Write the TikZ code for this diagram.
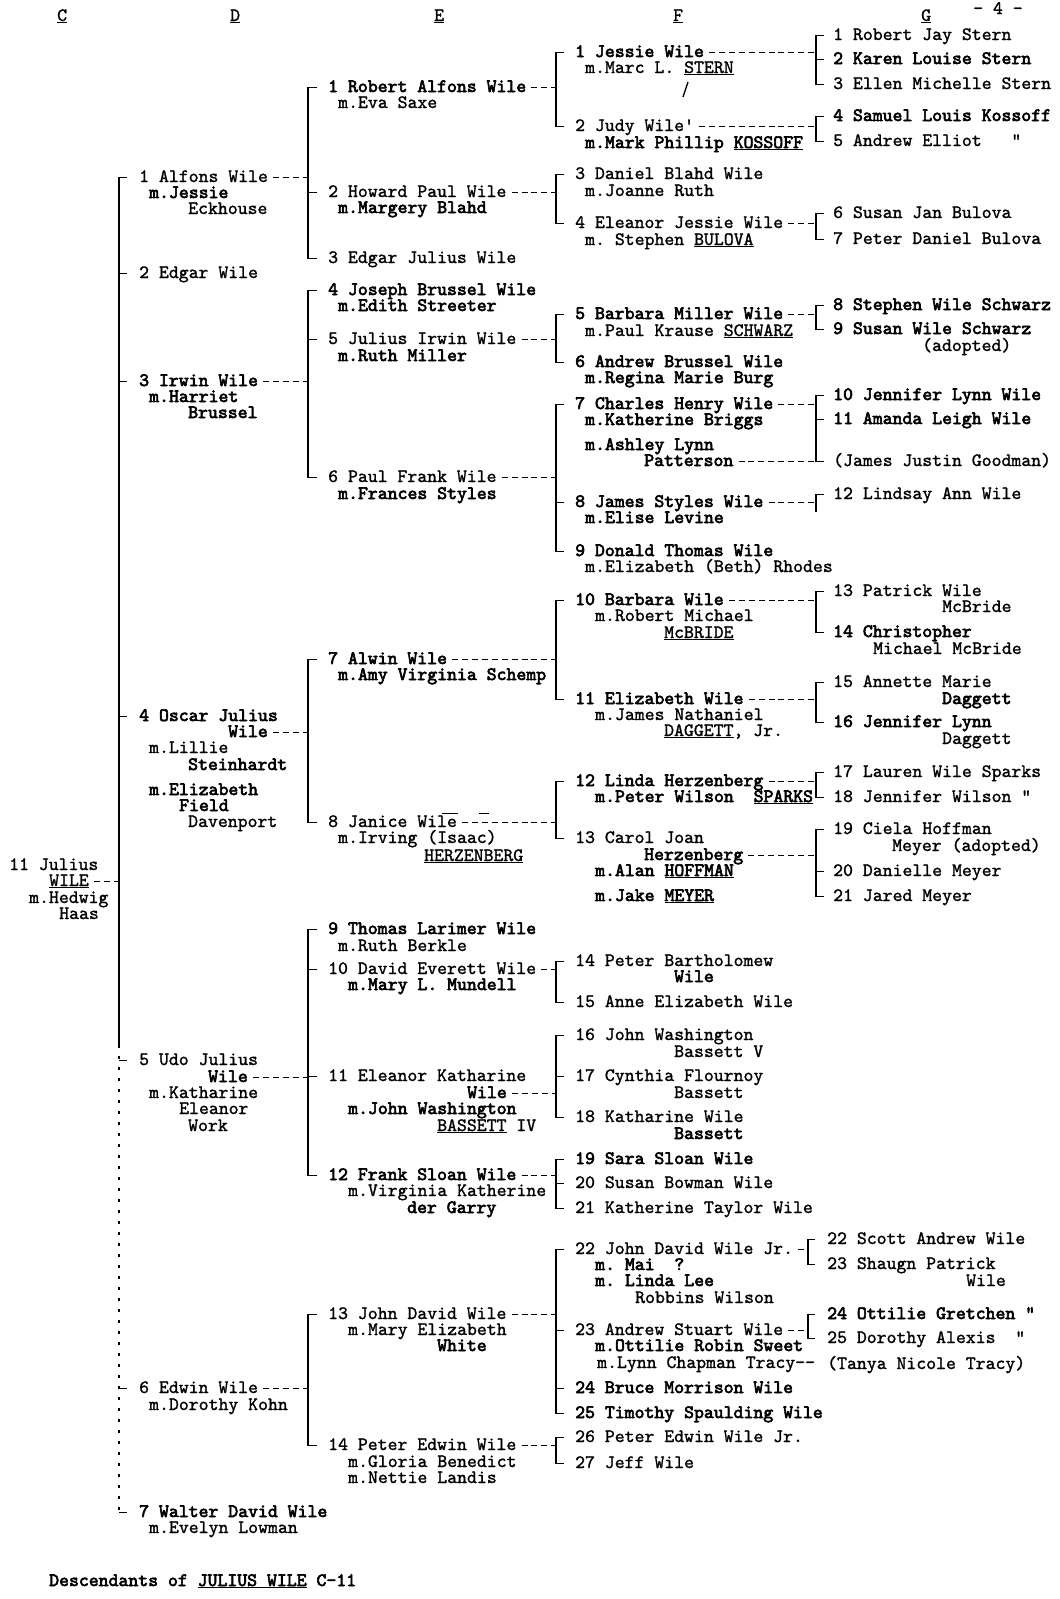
\documentclass[tikz,border=0pt]{standalone}
\font\twR="[lmmono10-regular.otf]:embolden=1.3" at 18.86pt
\font\twB="[lmmono10-regular.otf]:embolden=3.2" at 18.86pt
\newcommand\twr{\twR\frenchspacing}
\newcommand\twb{\twB\frenchspacing}
\tikzset{
  txr/.style={anchor=base west, inner sep=0pt, font=\twr},
  txb/.style={anchor=base west, inner sep=0pt, font=\twb},
  brk/.style={line width=1.5pt},
  dsh/.style={line width=1.5pt, dash pattern=on 6pt off 3.9pt},
  dot/.style={line width=1.1pt, dash pattern=on 3pt off 8pt},
}
% person line: node + mid (left, mid-height) + right coordinates
\newcommand\pnode[5][txb]{\node[#1] (#2) at (#3,#4) {#5};
  \coordinate (#2m) at ([yshift=4.5pt]#2.base west);
  \coordinate (#2r) at ([xshift=5pt,yshift=4.5pt]#2.base east);}
\newcommand\mline[5][txb]{\node[#1] (#2) at (#3,#4) {#5};}
% bracket: #1 x-coord, #2 tick-end coord, #3 top node, #4 bottom node
\newcommand\brak[4]{\draw[brk] (#3m -| #2) -- (#3m -| #1) -- (#4m -| #1) -- (#4m -| #2);}
\newcommand\tick[3]{\draw[brk] (#3m -| #1) -- (#3m -| #2);}
\newcommand\conn[2]{\draw[dsh] (#1r) -- (#1r -| #2);}
\begin{document}
\begin{tikzpicture}[x=1pt,y=-1pt]
\fill[white] (0,0) rectangle (1060,1599);
\useasboundingbox (0,0) rectangle (1060,1599);
\coordinate (bD) at (119,0); \coordinate (tD) at (127,0);
\coordinate (bE) at (308,0); \coordinate (tE) at (317,0);
\coordinate (bF) at (556,0); \coordinate (tF) at (564,0);
\coordinate (bG) at (816,0); \coordinate (tG) at (824,0);
\coordinate (bH) at (808,0); \coordinate (tH) at (815,0);

% headers
\mline[txr]{hC}{57}{21}{\underline{C}}
\mline[txr]{hD}{230}{21}{\underline{D}}
\mline[txr]{hE}{434}{21}{\underline{E}}
\mline[txr]{hF}{673}{21}{\underline{F}}
\mline[txr]{hG}{921}{21}{\underline{G}}
\mline[txr]{pg}{973}{14}{- 4 -}

% C column
\pnode[txr]{c1}{9}{870}{11 Julius}
\pnode[txr]{c1a}{49}{886}{\underline{WILE}}
\mline[txr]{c1b}{29}{903}{m.Hedwig}
\mline[txr]{c1c}{59}{919}{Haas}

% D column
\pnode[txr]{d1}{139}{182}{1 Alfons Wile}
\mline{d1a}{149}{198}{m.Jessie}
\mline[txr]{d1b}{188}{214}{Eckhouse}
\pnode[txr]{d2}{139}{278}{2 Edgar Wile}
\pnode{d3}{139}{386}{3 Irwin Wile}
\mline{d3a}{149}{402}{m.Harriet}
\mline{d3b}{188}{418}{Brussel}
\pnode{d4}{139}{721}{4 Oscar Julius}
\pnode{d4a}{228}{737}{Wile}
\mline[txr]{d4b}{149}{753}{m.Lillie}
\mline{d4c}{188}{770}{Steinhardt}
\mline{d4d}{149}{795}{m.Elizabeth}
\mline{d4e}{179}{811}{Field}
\mline[txr]{d4f}{188}{827}{Davenport}
\pnode[txr]{d5}{139}{1065}{5 Udo Julius}
\pnode{d5a}{208}{1082}{Wile}
\mline[txr]{d5b}{149}{1098}{m.Katharine}
\mline[txr]{d5c}{179}{1114}{Eleanor}
\mline[txr]{d5d}{188}{1131}{Work}
\pnode[txr]{d6}{139}{1393}{6 Edwin Wile}
\mline[txr]{d6a}{149}{1410}{m.Dorothy Kohn}
\pnode{d7}{139}{1517}{7 Walter David Wile}
\mline[txr]{d7a}{149}{1533}{m.Evelyn Lowman}

% E column
\pnode{e1}{328}{92}{1 Robert Alfons Wile}
\mline[txr]{e1a}{338}{108}{m.Eva Saxe}
\pnode[txr]{e2}{328}{197}{2 Howard Paul Wile}
\mline{e2a}{338}{213}{m.Margery Blahd}
\pnode[txr]{e3}{328}{263}{3 Edgar Julius Wile}
\pnode{e4}{328}{295}{4 Joseph Brussel Wile}
\mline{e4a}{338}{311}{m.Edith Streeter}
\pnode[txr]{e5}{328}{344}{5 Julius Irwin Wile}
\mline{e5a}{338}{361}{m.Ruth Miller}
\pnode[txr]{e6}{328}{482}{6 Paul Frank Wile}
\mline{e6a}{338}{499}{m.Frances Styles}
\pnode{e7}{328}{664}{7 Alwin Wile}
\mline{e7a}{338}{680}{m.Amy Virginia Schemp}
\pnode[txr]{e8}{328}{827}{8 Janice Wile}
\mline[txr]{e8a}{338}{843}{m.Irving (Isaac)}
\mline[txr]{e8b}{424}{861}{\underline{HERZENBERG}}
\pnode{e9}{328}{934}{9 Thomas Larimer Wile}
\mline[txr]{e9a}{338}{951}{m.Ruth Berkle}
\pnode[txr]{e10}{328}{974}{10 David Everett Wile}
\mline{e10a}{348}{990}{m.Mary L. Mundell}
\pnode[txr]{e11}{328}{1081}{11 Eleanor Katharine}
\pnode{e11a}{467}{1098}{Wile}
\mline{e11b}{348}{1114}{m.John Washington}
\mline[txr]{e11c}{437}{1131}{\underline{BASSETT} IV}
\pnode{e12}{328}{1180}{12 Frank Sloan Wile}
\mline[txr]{e12a}{348}{1196}{m.Virginia Katherine}
\mline{e12b}{407}{1213}{der Garry}
\pnode[txr]{e13}{328}{1319}{13 John David Wile}
\mline[txr]{e13a}{348}{1335}{m.Mary Elizabeth}
\mline{e13b}{437}{1351}{White}
\pnode[txr]{e14}{328}{1450}{14 Peter Edwin Wile}
\mline[txr]{e14a}{348}{1467}{m.Gloria Benedict}
\mline[txr]{e14b}{348}{1483}{m.Nettie Landis}

% F column
\pnode{f1}{575}{57}{1 Jessie Wile}
\mline[txr]{f1a}{585}{73}{m.Marc L. \underline{STERN}}
\pnode[txr]{f2}{575}{131}{2 Judy Wile'}
\mline{f2a}{585}{148}{m.Mark Phillip \underline{KOSSOFF}}
\pnode[txr]{f3}{575}{179}{3 Daniel Blahd Wile}
\mline[txr]{f3a}{585}{196}{m.Joanne Ruth}
\pnode[txr]{f4}{575}{228}{4 Eleanor Jessie Wile}
\mline[txr]{f4a}{585}{245}{m. Stephen \underline{BULOVA}}
\pnode{f5}{575}{319}{5 Barbara Miller Wile}
\mline[txr]{f5a}{585}{336}{m.Paul Krause \underline{SCHWARZ}}
\pnode{f6}{575}{367}{6 Andrew Brussel Wile}
\mline{f6a}{585}{383}{m.Regina Marie Burg}
\pnode{f7}{575}{409}{7 Charles Henry Wile}
\mline{f7a}{585}{425}{m.Katherine Briggs}
\mline{f7b}{585}{450}{m.Ashley Lynn}
\pnode{f7c}{644}{466}{Patterson}
\pnode{f8}{575}{507}{8 James Styles Wile}
\mline{f8a}{585}{523}{m.Elise Levine}
\pnode{f9}{575}{556}{9 Donald Thomas Wile}
\mline[txr]{f9a}{585}{572}{m.Elizabeth (Beth) Rhodes}
\pnode{f10}{575}{605}{10 Barbara Wile}
\mline[txr]{f10a}{595}{621}{m.Robert Michael}
\mline[txr]{f10b}{664}{638}{\underline{McBRIDE}}
\pnode{f11}{575}{704}{11 Elizabeth Wile}
\mline[txr]{f11a}{595}{720}{m.James Nathaniel}
\mline[txr]{f11b}{664}{736}{\underline{DAGGETT}, Jr.}
\pnode{f12}{575}{786}{12 Linda Herzenberg}
\mline{f12a}{595}{802}{m.Peter Wilson\ \ \underline{SPARKS}}
\pnode[txr]{f13}{575}{843}{13 Carol Joan}
\pnode{f13a}{644}{860}{Herzenberg}
\mline{f13b}{595}{876}{m.Alan \underline{HOFFMAN}}
\mline{f13c}{595}{901}{m.Jake \underline{MEYER}}
\pnode[txr]{f14}{575}{966}{14 Peter Bartholomew}
\mline{f14a}{674}{982}{Wile}
\pnode[txr]{f15}{575}{1007}{15 Anne Elizabeth Wile}
\pnode[txr]{f16}{575}{1040}{16 John Washington}
\mline[txr]{f16a}{674}{1057}{Bassett V}
\pnode[txr]{f17}{575}{1081}{17 Cynthia Flournoy}
\mline[txr]{f17a}{674}{1098}{Bassett}
\pnode[txr]{f18}{575}{1122}{18 Katharine Wile}
\mline{f18a}{674}{1139}{Bassett}
\pnode{f19}{575}{1164}{19 Sara Sloan Wile}
\pnode[txr]{f20}{575}{1188}{20 Susan Bowman Wile}
\pnode[txr]{f21}{575}{1213}{21 Katherine Taylor Wile}
\pnode[txr]{f22}{575}{1254}{22 John David Wile Jr.}
\mline{f22a}{595}{1270}{m. Mai\ \ ?}
\mline{f22b}{595}{1286}{m. Linda Lee}
\mline[txr]{f22c}{635}{1303}{Robbins Wilson}
\pnode[txr]{f23}{575}{1335}{23 Andrew Stuart Wile}
\mline{f23a}{595}{1351}{m.Ottilie Robin Sweet}
\mline[txr]{f23b}{597}{1368}{m.Lynn Chapman Tracy-{}-}
\pnode{f24}{575}{1393}{24 Bruce Morrison Wile}
\pnode{f25}{575}{1418}{25 Timothy Spaulding Wile}
\pnode[txr]{f26}{575}{1442}{26 Peter Edwin Wile Jr.}
\pnode[txr]{f27}{575}{1468}{27 Jeff Wile}

% G column
\pnode[txr]{g1}{833}{40}{1 Robert Jay Stern}
\pnode{g2}{833}{64}{2 Karen Louise Stern}
\pnode[txr]{g3}{833}{89}{3 Ellen Michelle Stern}
\pnode{g4}{833}{121}{4 Samuel Louis Kossoff}
\pnode[txr]{g5}{833}{146}{5 Andrew Elliot\ \ \ "}
\pnode[txr]{g6}{833}{218}{6 Susan Jan Bulova}
\pnode[txr]{g7}{833}{244}{7 Peter Daniel Bulova}
\pnode{g8}{833}{310}{8 Stephen Wile Schwarz}
\pnode{g9}{833}{334}{9 Susan Wile Schwarz}
\mline[txr]{g9a}{922}{351}{(adopted)}
\pnode{g10}{833}{400}{10 Jennifer Lynn Wile}
\pnode{g11}{833}{424}{11 Amanda Leigh Wile}
\pnode[txr]{g11x}{833}{466}{(James Justin Goodman)}
\pnode[txr]{g12}{833}{499}{12 Lindsay Ann Wile}
\coordinate (g12em) at (816,512);
\pnode[txr]{g13}{833}{596}{13 Patrick Wile}
\mline[txr]{g13a}{942}{612}{McBride}
\pnode{g14}{833}{637}{14 Christopher}
\mline[txr]{g14a}{873}{654}{Michael McBride}
\pnode[txr]{g15}{833}{687}{15 Annette Marie}
\mline{g15a}{942}{704}{Daggett}
\pnode{g16}{833}{727}{16 Jennifer Lynn}
\mline[txr]{g16a}{942}{744}{Daggett}
\pnode[txr]{g17}{833}{777}{17 Lauren Wile Sparks}
\pnode[txr]{g18}{833}{802}{18 Jennifer Wilson "}
\pnode[txr]{g19}{833}{834}{19 Ciela Hoffman}
\mline[txr]{g19a}{892}{851}{Meyer (adopted)}
\pnode[txr]{g20}{833}{876}{20 Danielle Meyer}
\pnode[txr]{g21}{833}{901}{21 Jared Meyer}
\pnode[txr]{g22}{827}{1244}{22 Scott Andrew Wile}
\pnode[txr]{g23}{827}{1269}{23 Shaugn Patrick}
\mline[txr]{g23a}{966}{1286}{Wile}
\pnode{g24}{827}{1319}{24 Ottilie Gretchen "}
\pnode[txr]{g25}{827}{1343}{25 Dorothy Alexis\ \ "}
\mline[txr]{g25x}{827}{1369}{(Tanya Nicole Tracy)}

% footer
\mline{foot}{49}{1586}{Descendants of \underline{JULIUS\ WILE} C-11}

% ---- D bracket (children of Julius)
\coordinate (cutD) at (119,1045);
\draw[brk] (d1m -| tD) -- (d1m -| bD) -- (cutD);
\draw[dot] (cutD) -- (d7m -| bD);
\draw[brk] (d7m -| bD) -- (d7m -| tD);
\tick{bD}{tD}{d2} \tick{bD}{tD}{d3} \tick{bD}{tD}{d4} \tick{bD}{tD}{d5} \tick{bD}{tD}{d6}
\conn{c1a}{bD}

% ---- E brackets
\brak{bE}{tE}{e1}{e3} \tick{bE}{tE}{e2} \conn{d1}{bE}
\brak{bE}{tE}{e4}{e6} \tick{bE}{tE}{e5} \conn{d3}{bE}
\brak{bE}{tE}{e7}{e8} \conn{d4a}{bE}
\brak{bE}{tE}{e9}{e12} \tick{bE}{tE}{e10} \tick{bE}{tE}{e11} \conn{d5a}{bE}
\brak{bE}{tE}{e13}{e14} \conn{d6}{bE}

% ---- F brackets
\brak{bF}{tF}{f1}{f2} \conn{e1}{bF}
\brak{bF}{tF}{f3}{f4} \conn{e2}{bF}
\brak{bF}{tF}{f5}{f6} \conn{e5}{bF}
\brak{bF}{tF}{f7}{f9} \tick{bF}{tF}{f8} \conn{e6}{bF}
\brak{bF}{tF}{f10}{f11} \conn{e7}{bF}
\brak{bF}{tF}{f12}{f13} \conn{e8}{bF}
\brak{bF}{tF}{f14}{f15} \conn{e10}{bF}
\brak{bF}{tF}{f16}{f18} \tick{bF}{tF}{f17} \conn{e11a}{bF}
\brak{bF}{tF}{f19}{f21} \tick{bF}{tF}{f20} \conn{e12}{bF}
\brak{bF}{tF}{f22}{f25} \tick{bF}{tF}{f23} \tick{bF}{tF}{f24} \conn{e13}{bF}
\brak{bF}{tF}{f26}{f27} \conn{e14}{bF}

% ---- G brackets
\brak{bG}{tG}{g1}{g3} \tick{bG}{tG}{g2} \conn{f1}{bG}
\brak{bG}{tG}{g4}{g5} \conn{f2}{bG}
\brak{bG}{tG}{g6}{g7} \conn{f4}{bG}
\brak{bG}{tG}{g8}{g9} \conn{f5}{bG}
\brak{bG}{tG}{g10}{g11x} \tick{bG}{tG}{g11} \conn{f7}{bG} \conn{f7c}{bG}
\draw[brk] (g12m -| tG) -- (g12m -| bG) -- (g12em);
\conn{f8}{bG}
\brak{bG}{tG}{g13}{g14} \conn{f10}{bG}
\brak{bG}{tG}{g15}{g16} \conn{f11}{bG}
\brak{bG}{tG}{g17}{g18} \conn{f12}{bG}
\brak{bG}{tG}{g19}{g21} \tick{bG}{tG}{g20} \conn{f13a}{bG}
\brak{bH}{tH}{g22}{g23} \conn{f22}{bH}
\brak{bH}{tH}{g24}{g25} \conn{f23}{bH}

% hand marks
\draw[line width=1.3pt] (688,82) -- (683,97);
\draw[line width=1pt] (442,813) -- (458,813) (479,813) -- (489,813);
\end{tikzpicture}
\end{document}
